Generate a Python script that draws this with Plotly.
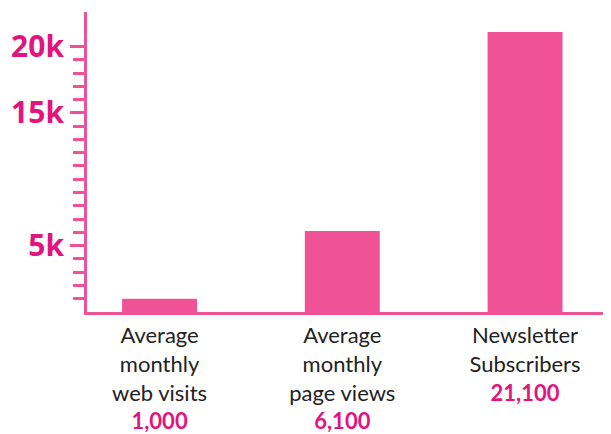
import plotly.graph_objects as go

categories = ["Average<br>monthly<br>web visits", "Average<br>monthly<br>page views", "Newsletter<br>Subscribers"]
values = [1000, 6100, 21100]
value_labels = ["1,000", "6,100", "21,100"]
ytick_vals = [5000, 15000, 20000]
ytick_text = ["5k", "15k", "20k"]
minor_vals = [v for v in range(1000, 20000, 1000) if v not in ytick_vals]

PINK = "#EF5396"
MAGENTA = "#E3147E"

xpos = [0, 1, 2]
ticktext = [
    f"{c}<br><span style='color:{MAGENTA}'><b>{v}</b></span>"
    for c, v in zip(categories, value_labels)
]

fig = go.Figure(go.Bar(x=xpos, y=values, marker=dict(color=PINK, line=dict(width=0)),
                       hoverinfo="skip"))

fig.update_layout(
    width=611, height=434,
    margin=dict(l=79, r=0, t=4, b=130, autoexpand=False),
    paper_bgcolor="white", plot_bgcolor="white",
    bargap=0.59,
    showlegend=False,
    font=dict(family="Lato, Noto Sans, sans-serif", color="#222222"),
)
fig.update_xaxes(
    range=[-0.397, 2.514], automargin=False,
    tickmode="array", tickvals=xpos, ticktext=ticktext,
    tickfont=dict(size=22, color="#222222", family="Lato, Noto Sans, sans-serif"),
    ticklabelstandoff=2,
    showline=True, linecolor=PINK, linewidth=3,
    ticks="", showgrid=False, zeroline=False,
)
fig.update_yaxes(
    range=[0, 22600], automargin=False,
    tickmode="array", tickvals=ytick_vals, ticktext=ytick_text,
    tickfont=dict(size=30, color=MAGENTA, family="Noto Sans, Lato, sans-serif", weight="bold"),
    ticks="outside", ticklen=14, tickwidth=3, tickcolor=PINK,
    minor=dict(tickmode="array", tickvals=minor_vals, ticks="outside", ticklen=11,
               tickwidth=3, tickcolor=PINK, showgrid=False),
    showline=True, linecolor=PINK, linewidth=3,
    showgrid=False, zeroline=False,
)

fig.write_html("out.html")
